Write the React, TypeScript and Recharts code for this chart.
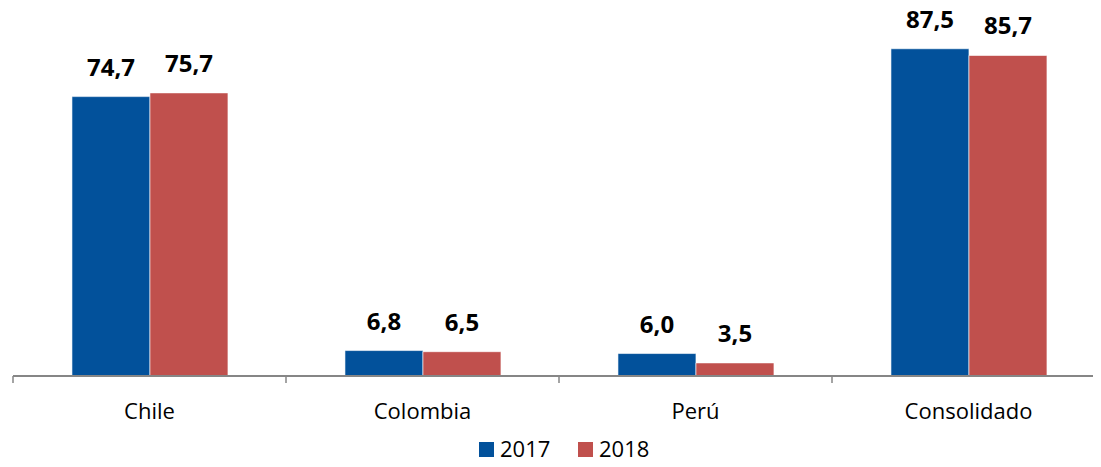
import React from 'react';
import { BarChart, Bar, XAxis, YAxis, Legend, LabelList } from 'recharts';

const categories = ['Chile', 'Colombia', 'Perú', 'Consolidado'];
const values2017 = [74.7, 6.8, 6.0, 87.5];
const values2018 = [75.7, 6.5, 3.5, 85.7];
const seriesNames = ['2017', '2018'];
const seriesColors = ['#02519B', '#C0504D'];

const data = categories.map((c, i) => ({ name: c, s2017: values2017[i], s2018: values2018[i] }));

const CHART_W = 1105;
const CHART_H = 459;
const LEG_H = 22;
const MARGIN = { top: 2, right: 0, left: 13, bottom: 0 };
const BAND = (CHART_W - MARGIN.left - MARGIN.right) / categories.length;
const FONT = '"Open Sans", "DejaVu Sans", sans-serif';

const fmt = (v: number) => v.toFixed(1).replace('.', ',');

const CustomTick = (props: any) => {
  const { x, y, payload, index } = props;
  const axisY = y - 8;
  const left = x - BAND / 2;
  const right = x + BAND / 2;
  return (
    <g>
      <line x1={left} x2={left} y1={axisY} y2={axisY + 7} stroke="#868686" strokeWidth={1.5} />
      {index === categories.length - 1 && (
        <line x1={right} x2={right} y1={axisY} y2={axisY + 7} stroke="#868686" strokeWidth={1.5} />
      )}
      <text x={x} y={axisY + 43} textAnchor="middle" fontFamily={FONT} fontSize={22} fill="#000">
        {payload.value}
      </text>
    </g>
  );
};

const LegendContent = () => (
  <svg width={1101} height={LEG_H} style={{ display: 'block', overflow: 'visible' }}>
    {seriesNames.map((n, i) => {
      const x0 = 479 + i * 99;
      return (
        <g key={n}>
          <rect x={x0} y={5} width={15} height={15} fill={seriesColors[i]} />
          <text x={x0 + 21} y={20} fontFamily={FONT} fontSize={22} fill="#000">{n}</text>
        </g>
      );
    })}
  </svg>
);

export default function App() {
  return (
    <div style={{ marginLeft: -8, marginTop: -8, width: 1101, height: CHART_H, overflow: 'hidden', background: '#fff', position: 'relative' }}>
      <BarChart
        width={CHART_W}
        height={CHART_H}
        data={data}
        margin={MARGIN}
        barCategoryGap="21.6%"
        barGap={0}
      >
        <YAxis hide domain={[0, 100]} />
        <XAxis
          dataKey="name"
          height={61}
          axisLine={{ stroke: '#868686', strokeWidth: 2 }}
          tickLine={false}
          tick={<CustomTick />}
          interval={0}
        />
        <Legend
          verticalAlign="bottom"
          height={LEG_H}
          content={<LegendContent />}
          wrapperStyle={{ top: CHART_H - LEG_H, bottom: 'auto', left: 0, width: 1101, height: LEG_H, lineHeight: 0 }}
        />
        <Bar dataKey="s2017" name="2017" fill={seriesColors[0]} stroke="#ffffff" strokeWidth={0.6} isAnimationActive={false}>
          <LabelList dataKey="s2017" position="top" offset={21} formatter={(v: any) => fmt(Number(v))}
            style={{ fontFamily: FONT, fontSize: 24, fontWeight: 700, fill: '#000' }} />
        </Bar>
        <Bar dataKey="s2018" name="2018" fill={seriesColors[1]} stroke="#ffffff" strokeWidth={0.6} isAnimationActive={false}>
          <LabelList dataKey="s2018" position="top" offset={21} formatter={(v: any) => fmt(Number(v))}
            style={{ fontFamily: FONT, fontSize: 24, fontWeight: 700, fill: '#000' }} />
        </Bar>
      </BarChart>
    </div>
  );
}
